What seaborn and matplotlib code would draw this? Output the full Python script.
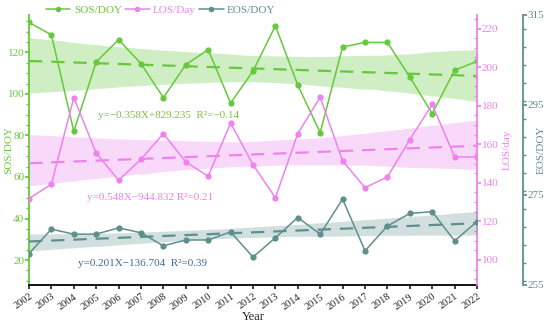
import numpy as np
import pandas as pd
import matplotlib
matplotlib.use("Agg")
import matplotlib.pyplot as plt
import seaborn as sns
from matplotlib.ticker import MultipleLocator
from matplotlib.lines import Line2D

years = list(range(2002, 2023))
sos = [134.4, 128.5, 82.0, 115.4, 126.1, 114.6, 98.2, 114.1, 121.3, 95.6, 111.0,
       132.8, 104.2, 81.4, 122.6, 124.8, 124.8, 108.2, 90.5, 111.4, 115.7]
los = [131.8, 139.3, 184.1, 155.4, 141.3, 152.2, 165.5, 150.8, 143.4, 171.0, 149.4,
       132.2, 165.5, 184.4, 151.3, 137.5, 143.0, 162.4, 180.6, 153.4, 153.4]
eos = [262.0, 267.4, 266.3, 266.3, 267.7, 266.6, 263.7, 265.0, 265.0, 266.8, 261.2,
       265.5, 270.0, 266.3, 274.1, 262.6, 268.1, 270.9, 271.3, 264.8, 269.1]
eq_labels = ["y=\u22120.358X+829.235  R\u00b2=\u22120.14",
             "y=0.548X\u2212944.832 R\u00b2=0.21",
             "y=0.201X\u2212136.704  R\u00b2=0.39"]

df = pd.DataFrame({"Year": years, "SOS": sos, "LOS": los, "EOS": eos})

sns.set_theme(style="ticks")
plt.rcParams["font.family"] = ["Liberation Serif", "DejaVu Serif"]

c_sos = "#66c83c"
c_los = "#ee82ee"
c_eos = "#5f8f8c"
c_eq3 = "#3d6aa5"

fig = plt.figure(figsize=(5.5, 3.25), dpi=100)
ax = fig.add_axes([29/550, 1-285/325, 448/550, 270/325])
ax2 = ax.twinx()
ax3 = ax.twinx()
ax3.spines["right"].set_position(("axes", (523-29)/448))

def draw(a, col, color, band_alpha):
    sns.regplot(data=df, x="Year", y=col, ax=a, scatter=False, ci=95, truncate=True,
                color=color, line_kws=dict(ls=(0, (6, 4)), lw=1.6))
    a.collections[-1].set_alpha(band_alpha)
    a.collections[-1].set_linewidth(0)
    sns.lineplot(data=df, x="Year", y=col, ax=a, color=color, lw=1.1,
                 marker="o", markersize=4.5, markeredgewidth=0, legend=False)

draw(ax, "SOS", c_sos, 0.3)
draw(ax2, "LOS", c_los, 0.3)
draw(ax3, "EOS", c_eos, 0.28)

ax.set_xlim(2002, 2022)
ax.set_ylim(8, 138)
ax2.set_ylim(87, 227)
ax3.set_ylim(255, 315)

ax.set_xticks(years)
ax.set_xticklabels([str(y) for y in years], rotation=35, ha="right",
                   rotation_mode="anchor", fontsize=7.5)
ax.tick_params(axis="x", length=3, pad=2)

ax.set_yticks([20, 40, 60, 80, 100, 120])
ax.yaxis.set_minor_locator(MultipleLocator(5))
ax.tick_params(axis="y", colors=c_sos, labelsize=8, length=3, pad=0.5)
ax.tick_params(axis="y", which="minor", colors=c_sos, length=2)

ax2.set_yticks([100, 120, 140, 160, 180, 200, 220])
ax2.yaxis.set_minor_locator(MultipleLocator(5))
ax2.tick_params(axis="y", colors=c_los, labelsize=8, length=3, pad=0.5)
ax2.tick_params(axis="y", which="minor", colors=c_los, length=2, direction="in")

ax3.set_yticks([255, 275, 295, 315])
ax3.yaxis.set_minor_locator(MultipleLocator(4))
ax3.tick_params(axis="y", colors=c_eos, labelsize=8, length=3, pad=0.5)
ax3.tick_params(axis="y", which="minor", colors=c_eos, length=2)

for a in (ax, ax2, ax3):
    a.spines["top"].set_visible(False)
ax.spines["right"].set_visible(False)
ax2.spines["left"].set_visible(False)
ax3.spines["left"].set_visible(False)
ax.spines["left"].set_color(c_sos)
ax.spines["left"].set_linewidth(1.3)
ax2.spines["right"].set_color(c_los)
ax2.spines["right"].set_linewidth(1.3)
ax3.spines["right"].set_color(c_eos)
ax3.spines["right"].set_linewidth(1.3)
ax.spines["bottom"].set_color("black")
ax.spines["bottom"].set_linewidth(1.3)
ax2.spines["bottom"].set_visible(False)
ax3.spines["bottom"].set_visible(False)

ax.set_xlabel("Year", fontsize=9, labelpad=0)
ax.set_ylabel("SOS/DOY", color=c_sos, fontsize=8)
ax2.set_ylabel("LOS/day", color=c_los, fontsize=8)
ax3.set_ylabel("EOS/DOY", color=c_eos, fontsize=8)
ax.yaxis.set_label_coords((13-29)/448, 0.5)
ax2.yaxis.set_label_coords((503-29)/448, 0.5)
ax3.yaxis.set_label_coords((537-29)/448, 0.5)

fig.text(98/550, 1-115/325, eq_labels[0], color="#7cc04e", fontsize=8, va="center")
fig.text(87/550, 1-198/325, eq_labels[1], color=c_los, fontsize=8, va="center")
fig.text(78/550, 1-263/325, eq_labels[2], color=c_eq3, fontsize=8, va="center")

handles = [Line2D([], [], color=c, lw=1.1, marker="o", markersize=4, markeredgewidth=0)
           for c in (c_sos, c_los, c_eos)]
leg = fig.legend(handles, ["SOS/DOY", "LOS/Day", "EOS/DOY"], loc="upper left",
                 bbox_to_anchor=(36/550, 1.015), ncol=3, frameon=False, fontsize=8,
                 handlelength=2.2, handletextpad=0.3, columnspacing=0.3)
for t, c in zip(leg.get_texts(), (c_sos, c_los, c_eos)):
    t.set_color(c)

fig.savefig("out.png", dpi=100)
